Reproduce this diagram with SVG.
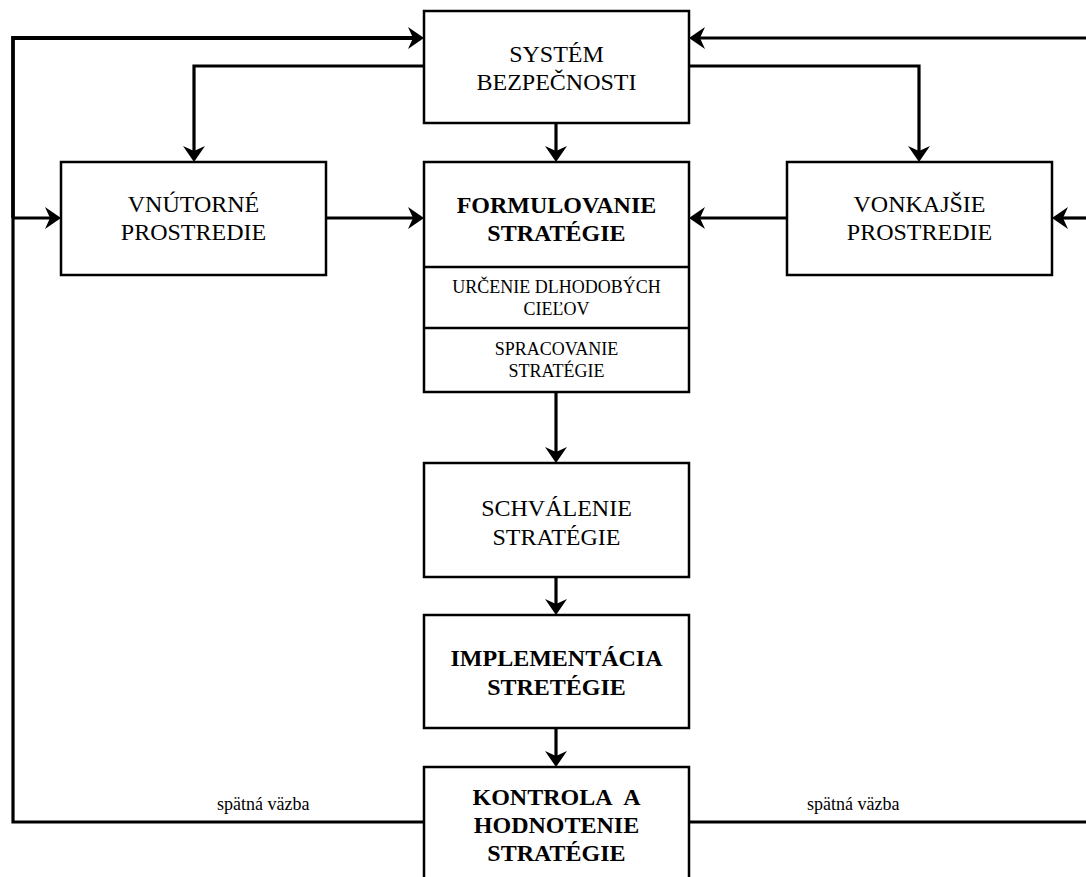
<svg xmlns="http://www.w3.org/2000/svg" width="1086" height="877" viewBox="0 0 1086 877">
<style>
.box{fill:#fff;stroke:#000;stroke-width:2.5}
.div{stroke:#000;stroke-width:2.5}
.c{fill:none;stroke:#000;stroke-width:3.2}
.t{font-family:"Liberation Serif","Times New Roman",serif;font-size:24px;fill:#000;text-anchor:middle}
.b{font-weight:bold}
.s{font-family:"Liberation Serif","Times New Roman",serif;font-size:18px;fill:#000;text-anchor:middle}
.l{font-family:"Liberation Serif","Times New Roman",serif;font-size:18px;fill:#000}
</style>
<defs>
<marker id="ah" markerUnits="userSpaceOnUse" viewBox="-9 -12 18 24" markerWidth="18" markerHeight="24" refX="0" refY="0" orient="auto">
<path d="M8,0 L-8,-11 L-3,0 L-8,11 Z" fill="#000"/>
</marker>
</defs>
<rect width="1086" height="877" fill="#fff"/>
<g id="connectors">
<path class="c" d="M424,822 H13 V218"/>
<path class="c" style="stroke-width:3.8" d="M13,218 V38 H416" marker-end="url(#ah)"/>
<path class="c" d="M13,218 H53" marker-end="url(#ah)"/>
<path class="c" d="M424,66 H194 V154" marker-end="url(#ah)"/>
<path class="c" d="M689,66 H919 V154" marker-end="url(#ah)"/>
<path class="c" d="M556,123 V154" marker-end="url(#ah)"/>
<path class="c" d="M326,218 H416" marker-end="url(#ah)"/>
<path class="c" d="M787,218 H697" marker-end="url(#ah)"/>
<path class="c" d="M1086,38 H697" marker-end="url(#ah)"/>
<path class="c" d="M1086,218 H1060" marker-end="url(#ah)"/>
<path class="c" d="M689,822 H1086"/>
<path class="c" d="M556,392 V455" marker-end="url(#ah)"/>
<path class="c" d="M556,577 V607" marker-end="url(#ah)"/>
<path class="c" d="M556,728 V759" marker-end="url(#ah)"/>
<text class="l" x="217" y="810">spätná väzba</text>
<text class="l" x="807" y="810">spätná väzba</text>
</g>
<g id="system">
<rect class="box" x="424" y="11" width="265" height="112"/>
<text class="t" x="556.5" y="62">SYSTÉM</text>
<text class="t" x="556.5" y="90">BEZPEČNOSTI</text>
</g>
<g id="vnutorne">
<rect class="box" x="61" y="162" width="265" height="113"/>
<text class="t" x="193.5" y="212">VNÚTORNÉ</text>
<text class="t" x="193.5" y="240">PROSTREDIE</text>
</g>
<g id="formulovanie">
<rect class="box" x="424" y="162" width="265" height="230"/>
<line class="div" x1="424" y1="267" x2="689" y2="267"/>
<line class="div" x1="424" y1="328" x2="689" y2="328"/>
<text class="t b" x="556.5" y="213">FORMULOVANIE</text>
<text class="t b" x="556.5" y="241">STRATÉGIE</text>
<text class="s" x="556.5" y="293">URČENIE DLHODOBÝCH</text>
<text class="s" x="556.5" y="315">CIEĽOV</text>
<text class="s" x="556.5" y="355">SPRACOVANIE</text>
<text class="s" x="556.5" y="377">STRATÉGIE</text>
</g>
<g id="vonkajsie">
<rect class="box" x="787" y="162" width="265" height="113"/>
<text class="t" x="919.5" y="212">VONKAJŠIE</text>
<text class="t" x="919.5" y="240">PROSTREDIE</text>
</g>
<g id="schvalenie">
<rect class="box" x="424" y="463" width="265" height="114"/>
<text class="t" x="556.5" y="516">SCHVÁLENIE</text>
<text class="t" x="556.5" y="545">STRATÉGIE</text>
</g>
<g id="implementacia">
<rect class="box" x="424" y="615" width="265" height="113"/>
<text class="t b" x="556.5" y="666">IMPLEMENTÁCIA</text>
<text class="t b" x="556.5" y="695">STRETÉGIE</text>
</g>
<g id="kontrola">
<rect class="box" x="424" y="767" width="265" height="120"/>
<text class="t b" x="556.5" y="805">KONTROLA&#160; A</text>
<text class="t b" x="556.5" y="833">HODNOTENIE</text>
<text class="t b" x="556.5" y="861">STRATÉGIE</text>
</g>
</svg>
